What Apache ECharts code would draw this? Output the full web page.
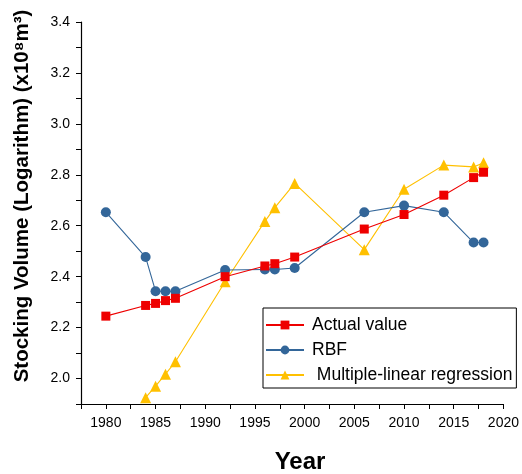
<!DOCTYPE html>
<html><head><meta charset="utf-8">
<script src="https://cdn.jsdelivr.net/npm/echarts@6/dist/echarts.min.js"></script>
<style>html,body{margin:0;padding:0;background:#fff}#c{width:522px;height:474px}</style>
</head><body><div id="c"></div>
<script>
var years = [1980, 1984, 1985, 1986, 1987, 1992, 1996, 1997, 1999, 2006, 2010, 2014, 2017, 2018];
var actualValue = [2.245, 2.287, 2.295, 2.306, 2.315, 2.40, 2.442, 2.451, 2.477, 2.587, 2.644, 2.72, 2.789, 2.81];
var rbfValue = [2.653, 2.477, 2.343, 2.343, 2.343, 2.426, 2.428, 2.428, 2.434, 2.653, 2.679, 2.653, 2.534, 2.534];
var mlrYears = [1984, 1985, 1986, 1987, 1992, 1996, 1997, 1999, 2006, 2010, 2014, 2017, 2018];
var mlrValue = [1.925, 1.97, 2.017, 2.066, 2.38, 2.617, 2.671, 2.766, 2.506, 2.743, 2.838, 2.831, 2.847];
var seriesNames = ['Actual value', 'RBF', ' Multiple-linear regression'];
var xTickLabels = ['1980','1985','1990','1995','2000','2005','2010','2015','2020'];
var yTickLabels = ['2.0','2.2','2.4','2.6','2.8','3.0','3.2','3.4'];
var xTitle = 'Year';
var yTitle = 'Stocking Volume (Logarithm) (x10⁸m³)';

function pairs(xs, ys){ return xs.map(function(x,i){ return [x, ys[i]]; }); }

var chart = echarts.init(document.getElementById('c'), null, {renderer:'canvas'});
var font = 'Liberation Sans, Arial, sans-serif';
chart.setOption({
  animation: false,
  backgroundColor: '#fff',
  textStyle: {fontFamily: font},
  grid: {left: 81, top: 22, right: 16, bottom: 70},
  graphic: [
    {type: 'text', x: 22, y: 196, rotation: Math.PI / 2,
     style: {text: yTitle, font: 'bold 20.5px ' + font, fill: '#000', align: 'center', verticalAlign: 'middle'}},
    {type: 'text', x: 300, y: 462,
     style: {text: xTitle, font: 'bold 24px ' + font, fill: '#000', align: 'center', verticalAlign: 'middle'}}
  ],
  legend: {
    orient: 'vertical', left: 263, top: 308,
    backgroundColor: '#fff', borderColor: '#000', borderWidth: 1,
    padding: [8, 4, 4, 2], itemGap: 7, itemWidth: 38, itemHeight: 11,
    textStyle: {fontSize: 17.5, lineHeight: 18, color: '#000', fontFamily: font, padding: [0, 0, 0, 3]},
    data: seriesNames.map(function(n){ return {name: n}; })
  },
  xAxis: {
    type: 'value', min: 1977.5, max: 2020, interval: 2.5,
    axisLine: {lineStyle: {color: '#000', width: 1.2}},
    axisTick: {inside: false, length: 5, lineStyle: {color: '#000'}},
    axisLabel: {color: '#000', fontSize: 14, margin: 12, fontFamily: font,
      formatter: function(v){ var s = String(Math.round(v)); return (v % 5 === 0 && xTickLabels.indexOf(s) >= 0) ? s : ''; }},
    splitLine: {show: false}
  },
  yAxis: {
    type: 'value', min: 1.9, max: 3.4, interval: 0.1,
    axisLine: {show: true, lineStyle: {color: '#000', width: 1.2}},
    axisTick: {show: true, inside: false, length: 5, lineStyle: {color: '#000'}},
    axisLabel: {color: '#000', fontSize: 14, margin: 11, fontFamily: font,
      formatter: function(v){ var s = v.toFixed(1); return yTickLabels.indexOf(s) >= 0 ? s : ''; }},
    splitLine: {show: false}
  },
  series: [
    {name: seriesNames[0], type: 'line', data: pairs(years, actualValue), z: 4,
     symbol: 'rect', symbolSize: 9, color: '#ee0000',
     lineStyle: {width: 1.1, color: '#ee0000'}, itemStyle: {color: '#ee0000'}},
    {name: seriesNames[1], type: 'line', data: pairs(years, rbfValue), z: 3,
     symbol: 'circle', symbolSize: 10, color: '#336699',
     lineStyle: {width: 1.1, color: '#336699'}, itemStyle: {color: '#336699'}},
    {name: seriesNames[2], type: 'line', data: pairs(mlrYears, mlrValue), z: 2,
     symbol: 'triangle', symbolSize: 11, color: '#ffc000',
     lineStyle: {width: 1.1, color: '#ffc000'}, itemStyle: {color: '#ffc000'}}
  ]
});
</script></body></html>
